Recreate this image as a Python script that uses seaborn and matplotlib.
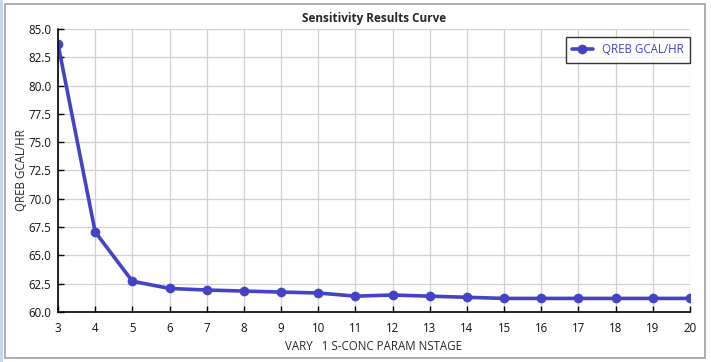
import matplotlib
matplotlib.use("Agg")
import matplotlib.pyplot as plt
import seaborn as sns
import pandas as pd
from matplotlib.patches import Rectangle

nstage = [3, 4, 5, 6, 7, 8, 9, 10, 11, 12, 13, 14, 15, 16, 17, 18, 19, 20]
qreb = [83.67, 67.07, 62.72, 62.08, 61.94, 61.85, 61.76, 61.68, 61.40, 61.50,
        61.40, 61.30, 61.20, 61.20, 61.20, 61.20, 61.20, 61.20]
series_name = "QREB GCAL/HR"
xticks = list(range(3, 21))
yticks = [60.0, 62.5, 65.0, 67.5, 70.0, 72.5, 75.0, 77.5, 80.0, 82.5, 85.0]

df = pd.DataFrame({"x": nstage, "y": qreb, "series": series_name})

sns.set_theme(style="whitegrid")
plt.rcParams["font.family"] = ["Open Sans", "DejaVu Sans"]

fig = plt.figure(figsize=(7.11, 3.62), dpi=100)
ax = fig.add_axes([58/711, 1-312/362, (690-58)/711, (312-29)/362])

color = "#4343C6"
sns.lineplot(data=df, x="x", y="y", hue="series", palette=[color], marker="o",
             markersize=7, markeredgewidth=0, linewidth=2.6, ax=ax)

ax.set_xlim(3, 20)
ax.set_ylim(60, 85)
ax.set_xticks(xticks)
ax.set_xticklabels([str(t) for t in xticks])
ax.set_yticks(yticks)
ax.set_yticklabels([f"{t:.1f}" for t in yticks])
ax.tick_params(axis="both", direction="in", length=4, width=1, color="black",
               labelsize=8.3, labelcolor="#111111", bottom=True, left=True)
ax.tick_params(axis="x", pad=7)
ax.tick_params(axis="y", pad=5)
ax.grid(True, color="#D0D0D0", linewidth=0.9)
for s in ["top", "right"]:
    ax.spines[s].set_visible(False)
for s in ["left", "bottom"]:
    ax.spines[s].set_color("black")
    ax.spines[s].set_linewidth(1.2)
ax.set_facecolor("white")

ax.set_title("Sensitivity Results Curve", fontsize=8.5, fontweight="bold", pad=5)
ax.set_xlabel("VARY   1 S-CONC PARAM NSTAGE", fontsize=8.3, labelpad=4)
ax.set_ylabel("QREB GCAL/HR", fontsize=8.3, labelpad=0)

leg = ax.legend(loc="upper right", frameon=True, fancybox=False, fontsize=8.3,
                borderpad=0.55, handlelength=1.8, borderaxespad=0,
                bbox_to_anchor=(1.0, 1 - 8/283))
leg.get_frame().set_edgecolor("black")
leg.get_frame().set_linewidth(1)
for t in leg.get_texts():
    t.set_color(color)

# outer window frame
fig.patches.append(Rectangle((5/711, 4/362), 700/711, 354/362, transform=fig.transFigure,
                             fill=False, edgecolor="#A0A0A0", linewidth=1.2))
fig.patches.append(Rectangle((0, 0), 3/711, 1, transform=fig.transFigure,
                             facecolor="#C8D8EA", edgecolor="none"))

fig.savefig("out.png", dpi=100)
